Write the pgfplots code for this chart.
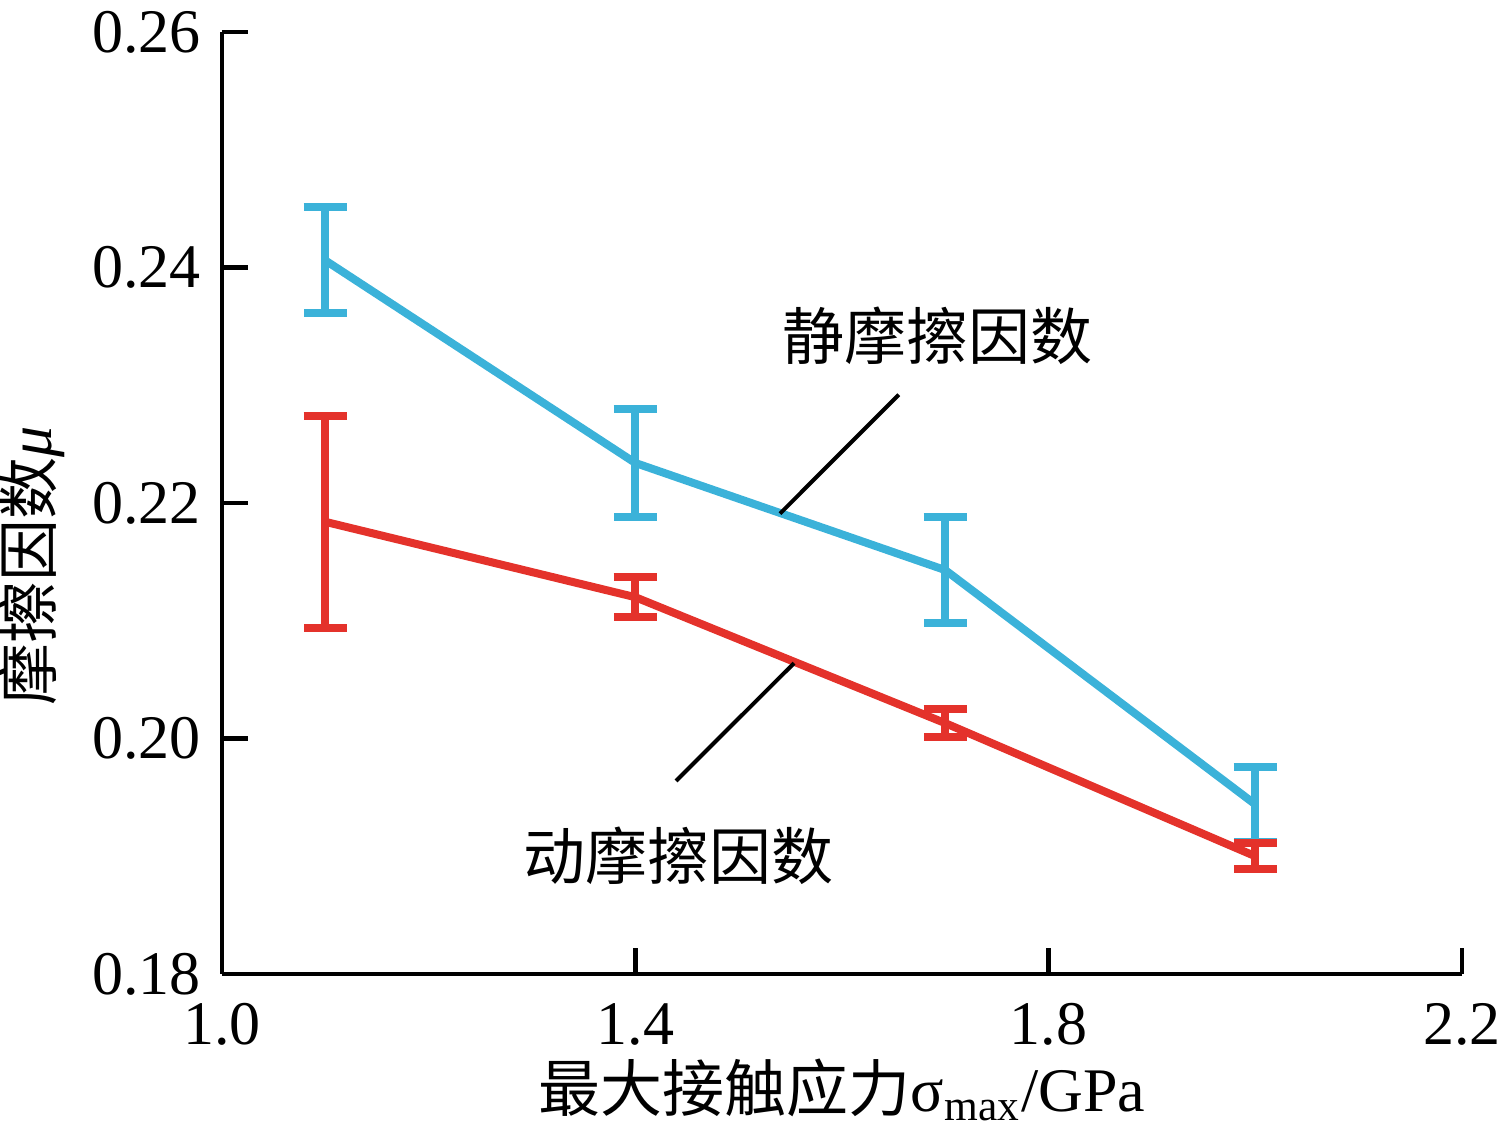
\documentclass[border=0pt]{standalone}
\usepackage{pgfplots}
\pgfplotsset{compat=1.18}
\usepackage{fontspec}
\setmainfont{Liberation Serif}
\newfontfamily\cjk{Noto Sans CJK SC}
\definecolor{cblue}{RGB}{59,178,217}
\definecolor{cred}{RGB}{228,50,43}
\begin{document}
\fontsize{15.5pt}{18pt}\selectfont
\begin{tikzpicture}
\begin{axis}[
  name=ax, at={(0,0)}, anchor=south west,
  scale only axis, width=310pt, height=235.5pt,
  xmin=1.0, xmax=2.2, ymin=0.18, ymax=0.26,
  axis x line=bottom, axis y line=left,
  axis line style={-, line width=1.1pt},
  xtick={1.0,1.4,1.8,2.2}, ytick={0.18,0.20,0.22,0.24,0.26},
  tick align=inside, major tick length=6.5pt,
  tick style={line width=1.1pt, black},
  /pgf/number format/assume math mode=true,
  xticklabel style={/pgf/number format/fixed, /pgf/number format/fixed zerofill, /pgf/number format/precision=1, yshift=-2pt},
  yticklabel style={/pgf/number format/fixed, /pgf/number format/fixed zerofill, /pgf/number format/precision=2},
  ticklabel style={font=\fontsize{15.5pt}{18pt}\selectfont},
  scaled y ticks=false,
  xlabel={{\cjk 最大接触应力}σ\textsubscript{max}/GPa},
  ylabel={{\cjk 摩擦因数}\textit{μ}},
  x label style={at={(axis description cs:0.5,0)}, anchor=center, yshift=-29pt},
  y label style={at={(axis description cs:-0.153,0.433)}, anchor=center, rotate=0},
  label style={font=\fontsize{15.5pt}{18pt}\selectfont},
  clip=false,
]
\addplot[cblue, line width=2pt, mark=none,
  error bars/.cd, y dir=both, y explicit,
  error bar style={line width=2pt},
  error mark options={rotate=90, mark size=5.4pt, line width=2pt, cblue}]
  coordinates {
  (1.1,0.2406) +- (0,0.0045)
  (1.4,0.2234) +- (0,0.0046)
  (1.7,0.2143) +- (0,0.0045)
  (2.0,0.1944) +- (0,0.0032)
};
\addplot[cred, line width=2pt, mark=none,
  error bars/.cd, y dir=both, y explicit,
  error bar style={line width=2pt},
  error mark options={rotate=90, mark size=5.4pt, line width=2pt, cred}]
  coordinates {
  (1.1,0.2184) +- (0,0.0090)
  (1.4,0.2120) +- (0,0.0017)
  (1.7,0.2013) +- (0,0.0012)
  (2.0,0.1900) +- (0,0.0011)
};
\draw[black, line width=1pt] (axis cs:1.655,0.2292) -- (axis cs:1.540,0.2191);
\draw[black, line width=1pt] (axis cs:1.5536,0.2064) -- (axis cs:1.4394,0.1964);
\node[font=\cjk\fontsize{15.5pt}{18pt}\selectfont, anchor=center] at (axis cs:1.692,0.2342) {静摩擦因数};
\node[font=\cjk\fontsize{15.5pt}{18pt}\selectfont, anchor=center] at (axis cs:1.4413,0.1900) {动摩擦因数};
\end{axis}
\pgfresetboundingbox
\useasboundingbox (-55.5pt,-40.25pt) rectangle (319.75pt,243.5pt);
\end{tikzpicture}
\end{document}
